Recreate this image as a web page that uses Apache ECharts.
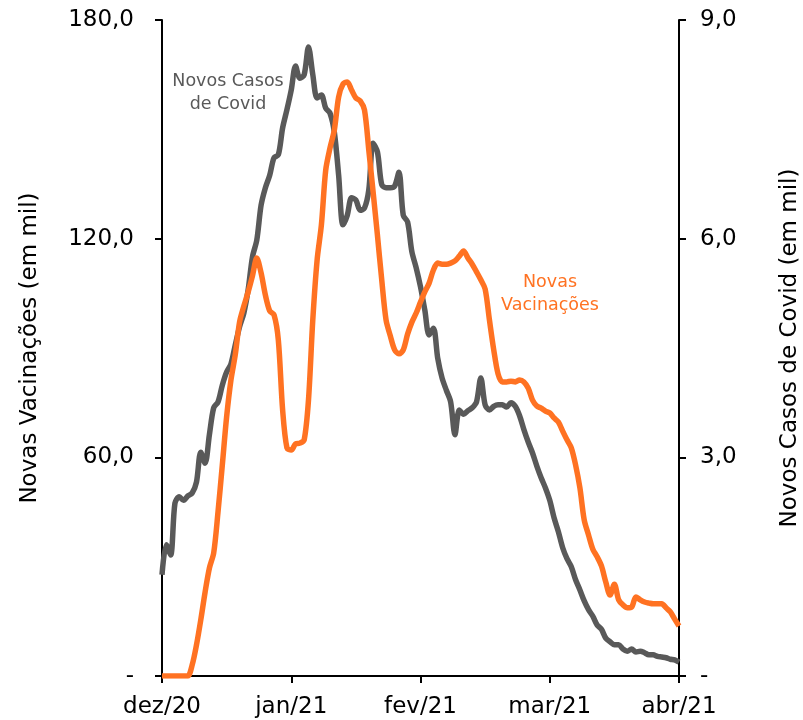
<!DOCTYPE html>
<html>
<head>
<meta charset="utf-8">
<script src="https://cdn.jsdelivr.net/npm/echarts@6/dist/echarts.min.js"></script>
<style>
html,body{margin:0;padding:0;background:#fff;}
#chart{width:803px;height:720px;}
</style>
</head>
<body>
<div id="chart"></div>
<script>
// Month tick labels (x axis: 30 samples per month, dez/20 .. abr/21)
const monthLabels = ['dez/20', 'jan/21', 'fev/21', 'mar/21', 'abr/21'];
const samplesPerMonth = 30;

// Novas Vacinações (em mil) – left axis
const vaccinations = [
  0, 0, 0, 0, 0, 0, 0, 3.0, 8.5, 15.4,
  23.0, 29.6, 33.8, 45.0, 57.9, 71.1, 81.2, 88.1, 97.1, 101.5,
  105.4, 109.8, 114.7, 110.6, 104.5, 100.2, 99.1, 92.2, 73.0, 62.6,
  62.0, 63.7, 63.9, 64.8, 75.7, 97.7, 114.1, 123.8, 138.8, 144.9,
  149.8, 158.9, 162.4, 163.0, 160.8, 158.6, 157.8, 155.3, 144.3, 132.8,
  121.0, 108.7, 97.7, 93.3, 89.5, 88.4, 89.5, 93.8, 97.1, 99.6,
  102.6, 105.4, 107.8, 111.4, 113.3, 113.0, 113.0, 113.3, 113.9, 115.2,
  116.6, 114.7, 113.0, 110.9, 108.7, 106.2, 97.7, 89.5, 82.9, 80.7,
  80.7, 80.9, 80.7, 81.2, 80.7, 79.0, 75.7, 74.1, 73.5, 72.7,
  72.2, 70.8, 69.7, 67.2, 64.8, 62.6, 57.9, 51.6, 42.8, 38.7,
  34.8, 32.7, 30.2, 25.8, 22.2, 25.2, 20.9, 19.5, 18.7, 18.9,
  21.7, 20.9, 20.3, 20.0, 19.8, 19.8, 19.8, 18.7, 17.6, 15.6,
  13.7
];

// Novos Casos de Covid (em mil) – right axis
const cases = [
  1.39, 1.80, 1.66, 2.37, 2.46, 2.41, 2.47, 2.51, 2.66, 3.07,
  2.92, 3.31, 3.68, 3.76, 3.99, 4.17, 4.28, 4.54, 4.79, 4.98,
  5.30, 5.75, 5.98, 6.46, 6.70, 6.87, 7.11, 7.15, 7.52, 7.77,
  8.04, 8.37, 8.20, 8.25, 8.63, 8.25, 7.93, 7.97, 7.79, 7.72,
  7.46, 6.87, 6.19, 6.32, 6.56, 6.53, 6.39, 6.42, 6.67, 7.31,
  7.19, 6.74, 6.70, 6.70, 6.72, 6.91, 6.32, 6.23, 5.82, 5.60,
  5.34, 5.02, 4.68, 4.77, 4.36, 4.09, 3.92, 3.76, 3.31, 3.65,
  3.59, 3.64, 3.68, 3.76, 4.09, 3.72, 3.65, 3.70, 3.72, 3.72,
  3.69, 3.75, 3.70, 3.57, 3.38, 3.21, 3.06, 2.88, 2.72, 2.58,
  2.41, 2.17, 1.98, 1.76, 1.61, 1.50, 1.32, 1.18, 1.03, 0.91,
  0.82, 0.70, 0.64, 0.52, 0.47, 0.43, 0.43, 0.37, 0.34, 0.37,
  0.33, 0.34, 0.32, 0.29, 0.29, 0.27, 0.26, 0.25, 0.23, 0.22,
  0.19
];

const leftTicks = [0, 60, 120, 180];
const rightTicks = [0, 3, 6, 9];

const ORANGE = '#ff7222';
const GRAY = '#595959';
const FONT = 'DejaVu Sans';

function fmt(v) {
  if (Math.abs(v) < 1e-9) return '-';
  return v.toFixed(1).replace('.', ',');
}

const chart = echarts.init(document.getElementById('chart'), null, {renderer: 'canvas'});
const option = {
  backgroundColor: '#ffffff',
  animation: false,
  grid: {left: 162, right: 124, top: 20, bottom: 44, containLabel: false, outerBoundsMode: 'none'},
  xAxis: {
    type: 'value',
    min: 0,
    max: (monthLabels.length - 1) * samplesPerMonth,
    interval: samplesPerMonth,
    splitLine: {show: false},
    axisLine: {lineStyle: {color: '#000', width: 2}},
    axisTick: {show: true, inside: false, length: 7, lineStyle: {color: '#000', width: 2}},
    axisLabel: {
      color: '#000', fontFamily: FONT, fontSize: 23, margin: 20,
      formatter: v => monthLabels[Math.round(v / samplesPerMonth)] || ''
    }
  },
  yAxis: [
    {
      type: 'value', min: leftTicks[0], max: leftTicks[leftTicks.length - 1], interval: 60,
      position: 'left',
      name: 'Novas Vacinações (em mil)', nameLocation: 'middle', nameRotate: 90, nameGap: 120,
      nameTextStyle: {color: '#000', fontFamily: FONT, fontSize: 23},
      splitLine: {show: false},
      axisLine: {show: true, lineStyle: {color: '#000', width: 2}},
      axisTick: {show: true, length: 7, lineStyle: {color: '#000', width: 2}},
      axisLabel: {color: '#000', fontFamily: FONT, fontSize: 23, margin: 28, formatter: fmt}
    },
    {
      type: 'value', min: rightTicks[0], max: rightTicks[rightTicks.length - 1], interval: 3,
      position: 'right',
      name: 'Novos Casos de Covid (em mil)', nameLocation: 'middle', nameRotate: 90, nameGap: 100,
      nameTextStyle: {color: '#000', fontFamily: FONT, fontSize: 23},
      splitLine: {show: false},
      axisLine: {show: true, lineStyle: {color: '#000', width: 2}},
      axisTick: {show: true, length: 7, lineStyle: {color: '#000', width: 2}},
      axisLabel: {color: '#000', fontFamily: FONT, fontSize: 23, margin: 21, align: 'left', formatter: fmt}
    }
  ],
  series: [
    {
      name: 'Novos Casos de Covid', type: 'line', yAxisIndex: 1,
      data: cases.map((v, i) => [i, v]),
      showSymbol: false, smooth: 0.3,
      lineStyle: {color: GRAY, width: 5.5}, itemStyle: {color: GRAY}
    },
    {
      name: 'Novas Vacinações', type: 'line', yAxisIndex: 0,
      data: vaccinations.map((v, i) => [i, v]),
      showSymbol: false, smooth: 0.3,
      lineStyle: {color: ORANGE, width: 5.5}, itemStyle: {color: ORANGE}
    }
  ],
  graphic: [
    {type: 'text', x: 228, y: 70, style: {text: 'Novos Casos\nde Covid', fill: GRAY, fontSize: 17.5, fontFamily: FONT, lineHeight: 23, align: 'center'}},
    {type: 'text', x: 550, y: 271, style: {text: 'Novas\nVacinações', fill: ORANGE, fontSize: 17.5, fontFamily: FONT, lineHeight: 23, align: 'center'}}
  ]
};
chart.setOption(option);
</script>
</body>
</html>
